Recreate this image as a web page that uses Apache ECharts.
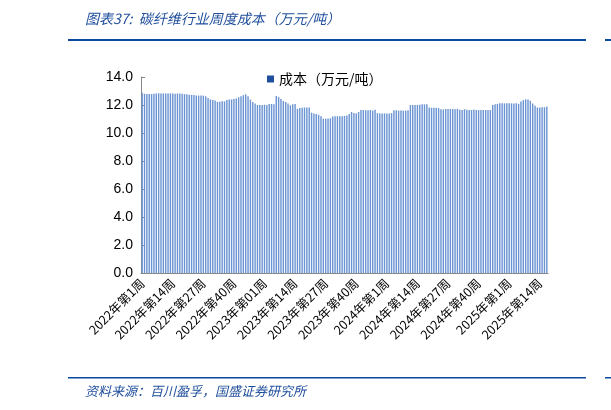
<!DOCTYPE html>
<html><head><meta charset="utf-8">
<script src="https://cdn.jsdelivr.net/npm/echarts@6/dist/echarts.min.js"></script>
<style>html,body{margin:0;padding:0;background:#fff}#c{width:611px;height:410px}</style>
</head><body><div id="c"></div>
<script>
const years = [2022, 2023, 2024, 2025];
const weeksPerYear = [52, 52, 52, 17];
const categories = [];
years.forEach((y, k) => {
  for (let w = 1; w <= weeksPerYear[k]; w++) {
    const ws = (y === 2023 && w === 1) ? '01' : String(w);
    categories.push(y + '年第' + ws + '周');
  }
});
const cost = [
12.88,
12.80,12.79,12.79,12.78,12.80,12.82,12.84,12.83,12.83,
12.82,12.82,12.83,12.82,12.81,12.82,12.82,12.80,12.78,
12.76,12.74,12.72,12.72,
12.68,12.67,12.67,12.67,12.62,12.50,
12.40,12.36,12.32,
12.22,12.24,12.26,12.26,
12.36,12.40,12.40,12.42,12.46,
12.55,12.62,12.70,12.76,
12.62,12.38,12.22,12.10,
12.00,12.00,12.00,12.02,12.00,
12.07,12.07,12.05,
12.64,12.58,12.42,
12.28,12.22,12.10,
11.98,12.05,12.08,
11.72,
11.78,11.80,11.82,11.82,11.82,
11.45,11.40,11.35,
11.30,11.20,
11.02,11.02,11.03,11.05,
11.18,11.20,11.20,11.20,11.20,11.22,11.25,11.35,
11.50,11.42,11.40,11.50,
11.64,11.64,11.62,11.62,11.64,11.60,11.66,
11.42,11.40,11.40,11.40,11.40,11.40,11.42,
11.62,11.62,11.60,11.60,11.60,11.60,11.62,
12.00,12.00,12.00,12.00,12.02,12.05,
12.05,12.05,
11.82,11.80,11.80,11.80,11.78,
11.70,11.68,
11.72,11.72,11.72,11.72,11.70,11.72,
11.66,11.64,11.70,11.66,
11.64,11.64,11.68,11.64,11.64,11.64,11.64,11.64,11.64,11.64,
12.00,12.05,12.08,
12.12,12.12,12.12,12.12,12.12,12.12,12.10,12.12,12.08,
12.25,12.35,12.40,12.40,
12.30,12.10,11.95,
11.82,11.82,11.84,11.84,11.88
];
const seriesName = '成本（万元/吨）';
const chart = echarts.init(document.getElementById('c'));
chart.setOption({
  animation: false,
  title: [{
    text: '图表37:  碳纤维行业周度成本（万元/吨）', left: 80, top: 7,
    textStyle: {fontSize: 14, fontStyle: 'italic', fontWeight: 'normal', color: '#1f4e9c', fontFamily: 'Noto Sans CJK SC'}
  }, {
    text: '资料来源：百川盈孚，国盛证券研究所', left: 80, top: 380,
    textStyle: {fontSize: 13, fontStyle: 'italic', fontWeight: 'normal', color: '#1f4e9c', fontFamily: 'Noto Sans CJK SC'}
  }],
  graphic: [
    {type: 'rect', shape: {x: 68, y: 39, width: 518, height: 2}, style: {fill: '#0b4a9e'}},
    {type: 'rect', shape: {x: 605, y: 39, width: 6, height: 2}, style: {fill: '#0b4a9e'}},
    {type: 'rect', shape: {x: 68, y: 377, width: 518, height: 1.5}, style: {fill: '#0b4a9e'}},
    {type: 'rect', shape: {x: 605, y: 377, width: 6, height: 1.5}, style: {fill: '#0b4a9e'}}
  ],
  legend: {
    data: [seriesName], left: 262, top: 67, itemWidth: 7, itemHeight: 7, itemGap: 4,
    textStyle: {fontSize: 14, color: '#000', fontFamily: 'Noto Sans CJK SC'},
    icon: 'rect', itemStyle: {color: '#1f4e9c'}
  },
  grid: {left: 141, right: 63, top: 77, bottom: 137},
  xAxis: {
    type: 'category', data: categories,
    axisLine: {lineStyle: {color: '#888'}}, axisTick: {show: false},
    axisLabel: {interval: 12, rotate: 45, fontSize: 12.5, color: '#000', margin: 8, fontFamily: 'Noto Sans CJK SC'}
  },
  yAxis: {
    type: 'value', min: 0, max: 14, interval: 2,
    splitLine: {show: false},
    axisLine: {show: true, lineStyle: {color: '#888'}},
    axisTick: {show: true, inside: true, length: 4, lineStyle: {color: '#888'}},
    axisLabel: {formatter: v => v.toFixed(1), fontSize: 14, color: '#000', fontFamily: 'Liberation Sans'}
  },
  series: [{
    name: seriesName, type: 'bar', data: cost, barCategoryGap: '40%',
    itemStyle: {color: '#6a93d2'}
  }]
});
</script></body></html>
